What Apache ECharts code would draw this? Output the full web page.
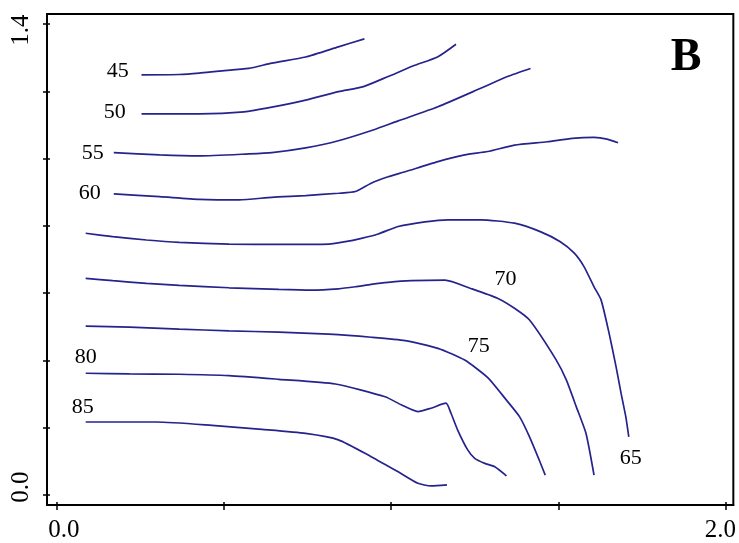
<!DOCTYPE html>
<html>
<head>
<meta charset="utf-8">
<script src="https://cdn.jsdelivr.net/npm/echarts@6/dist/echarts.min.js"></script>
<style>
html,body{margin:0;padding:0;background:#fff;}
#chart{width:739px;height:543px;}
</style>
</head>
<body>
<div id="chart"></div>
<script>
// Contour levels (value of each line) and their traced (x, y) points
const levels = ['45','50','55','60','65','70','75','80','85'];
const c45 = [[0.253,1.249],[0.366,1.250],[0.426,1.254],[0.485,1.260],[0.574,1.268],[0.643,1.284],[0.744,1.302],[0.842,1.332],[0.920,1.356]];
const c50 = [[0.253,1.133],[0.426,1.133],[0.560,1.139],[0.643,1.153],[0.744,1.174],[0.842,1.199],[0.917,1.214],[0.991,1.244],[1.065,1.275],[1.140,1.303],[1.194,1.340]];
const c55 = [[0.170,1.018],[0.307,1.011],[0.426,1.008],[0.574,1.014],[0.643,1.018],[0.744,1.032],[0.842,1.053],[0.946,1.085],[1.021,1.112],[1.140,1.154],[1.268,1.209],[1.348,1.244],[1.417,1.268]];
const c60 = [[0.170,0.895],[0.307,0.887],[0.426,0.879],[0.545,0.877],[0.643,0.885],[0.744,0.890],[0.842,0.897],[0.893,0.902],[0.940,0.927],[0.991,0.946],[1.042,0.961],[1.140,0.991],[1.220,1.011],[1.289,1.021],[1.369,1.040],[1.467,1.050],[1.542,1.060],[1.607,1.063],[1.646,1.058],[1.679,1.047]];
const c65 = [[0.086,0.778],[0.167,0.768],[0.268,0.758],[0.366,0.751],[0.515,0.746],[0.664,0.745],[0.813,0.746],[0.863,0.753],[0.911,0.763],[0.961,0.776],[1.021,0.798],[1.101,0.812],[1.170,0.818],[1.268,0.818],[1.369,0.808],[1.446,0.783],[1.506,0.753],[1.548,0.719],[1.577,0.679],[1.607,0.619],[1.628,0.580],[1.652,0.481],[1.673,0.381],[1.688,0.302],[1.702,0.233],[1.711,0.173]];
const c70 = [[0.086,0.644],[0.167,0.637],[0.268,0.629],[0.366,0.623],[0.515,0.616],[0.664,0.611],[0.762,0.609],[0.842,0.613],[0.893,0.619],[0.940,0.626],[0.991,0.632],[1.060,0.637],[1.161,0.639],[1.238,0.614],[1.318,0.585],[1.369,0.555],[1.414,0.520],[1.494,0.401],[1.524,0.342],[1.554,0.262],[1.583,0.183],[1.607,0.059]];
const c75 = [[0.086,0.502],[0.217,0.499],[0.366,0.493],[0.515,0.488],[0.664,0.484],[0.813,0.478],[0.940,0.469],[1.042,0.459],[1.140,0.436],[1.220,0.401],[1.289,0.349],[1.345,0.282],[1.384,0.233],[1.414,0.173],[1.443,0.104],[1.461,0.059]];
const c80 = [[0.086,0.362],[0.217,0.360],[0.366,0.359],[0.515,0.355],[0.664,0.344],[0.833,0.330],[0.982,0.292],[1.030,0.268],[1.080,0.248],[1.119,0.258],[1.164,0.273],[1.179,0.243],[1.199,0.193],[1.229,0.134],[1.250,0.109],[1.280,0.094],[1.310,0.084],[1.345,0.057]];
const c85 = [[0.086,0.217],[0.298,0.217],[0.464,0.207],[0.613,0.195],[0.744,0.183],[0.842,0.164],[0.940,0.114],[1.021,0.069],[1.080,0.035],[1.119,0.027],[1.167,0.030]];
const contourLines = [c45,c50,c55,c60,c65,c70,c75,c80,c85];

// Contour label anchors: [x, y, text]
const contourLabels = [[0.182,1.260,'45'],[0.173,1.139,'50'],[0.107,1.017,'55'],[0.098,0.898,'60'],[1.717,0.110,'65'],[1.342,0.642,'70'],[1.262,0.443,'75'],[0.086,0.410,'80'],[0.077,0.262,'85']];

// Axis ticks and tick labels
const xTicks = [0, 0.5, 1.0, 1.5, 2.0];
const yTicks = [0, 0.2, 0.4, 0.6, 0.8, 1.0, 1.2, 1.4];
const xLabelValues = [0, 2.0];
const xTickLabels = ['0.0', '2.0'];
const yLabelValues = [0, 1.4];
const yTickLabels = ['0.0', '1.4'];
const panelLetter = 'B';

const SERIF = '"Liberation Serif", "Times New Roman", serif';
const LINE_COLOR = '#25238c';
const LABEL_FS = 25;

function labelText(values, texts, value, styles) {
  let k = 0;
  for (let i = 0; i < values.length; i++) if (Math.abs(values[i] - value) < 1e-6) k = i;
  return '{' + styles[k] + '|' + texts[k] + '}';
}
const richBase = {fontFamily: SERIF, fontSize: LABEL_FS, color: '#000'};

const chart = echarts.init(document.getElementById('chart'), null, {renderer: 'canvas'});

const series = contourLines.map((pts, i) => ({
  name: levels[i],
  type: 'line',
  data: pts,
  showSymbol: false,
  symbol: 'none',
  smooth: 0.2,
  silent: true,
  lineStyle: {color: LINE_COLOR, width: 1.7},
  z: 3
}));
series.push({
  type: 'scatter',
  data: contourLabels,
  symbolSize: 1,
  silent: true,
  itemStyle: {color: 'rgba(255,255,255,0)'},
  label: {
    show: true,
    position: 'inside',
    formatter: p => p.value[2],
    fontFamily: SERIF,
    fontSize: 22,
    color: '#000',
    textBorderWidth: 0,
    opacity: 1
  },
  z: 4
});

const xRange = {min: -0.0298, max: 2.0238};
const yRange = {min: -0.0297, max: 1.4298};

chart.setOption({
  animation: false,
  backgroundColor: '#fff',
  grid: {left: 47, right: 2, top: 14, bottom: 38, show: true, borderColor: '#000', borderWidth: 2, containLabel: false},
  xAxis: [{
    type: 'value', position: 'bottom', min: xRange.min, max: xRange.max,
    axisLine: {show: true, onZero: false, lineStyle: {color: '#000', width: 2}},
    axisTick: {show: true, length: 5, customValues: xTicks, lineStyle: {color: '#000', width: 1.5}},
    axisLabel: {
      show: true, customValues: xLabelValues, margin: 13,
      formatter: v => labelText(xLabelValues, xTickLabels, v, ['l', 'r']),
      rich: {
        l: Object.assign({padding: [0, 0, 0, 14]}, richBase),
        r: Object.assign({padding: [0, 10, 0, 0]}, richBase)
      }
    },
    splitLine: {show: false}
  }, {
    type: 'value', position: 'bottom', min: xRange.min, max: xRange.max,
    axisLine: {show: false, onZero: false},
    axisTick: {show: true, inside: true, length: 3, customValues: xTicks, lineStyle: {color: '#000', width: 1.5}},
    axisLabel: {show: false},
    splitLine: {show: false}
  }],
  yAxis: [{
    type: 'value', position: 'left', min: yRange.min, max: yRange.max,
    axisLine: {show: true, onZero: false, lineStyle: {color: '#000', width: 2}},
    axisTick: {show: true, length: 4, customValues: yTicks, lineStyle: {color: '#000', width: 1.5}},
    axisLabel: {
      show: true, customValues: yLabelValues, margin: 13, rotate: 90,
      formatter: v => labelText(yLabelValues, yTickLabels, v, ['b', 't']),
      rich: {
        b: Object.assign({padding: [0, 0, 0, 16]}, richBase),
        t: Object.assign({padding: [0, 12, 0, 0]}, richBase)
      }
    },
    splitLine: {show: false}
  }, {
    type: 'value', position: 'left', min: yRange.min, max: yRange.max,
    axisLine: {show: false, onZero: false},
    axisTick: {show: true, inside: true, length: 3, customValues: yTicks, lineStyle: {color: '#000', width: 1.5}},
    axisLabel: {show: false},
    splitLine: {show: false}
  }],
  graphic: [{
    type: 'text',
    x: 686, y: 58,
    style: {text: panelLetter, font: 'bold 46px ' + SERIF, fill: '#000', textAlign: 'center', textVerticalAlign: 'middle'},
    z: 10
  }],
  series: series
});
</script>
</body>
</html>
